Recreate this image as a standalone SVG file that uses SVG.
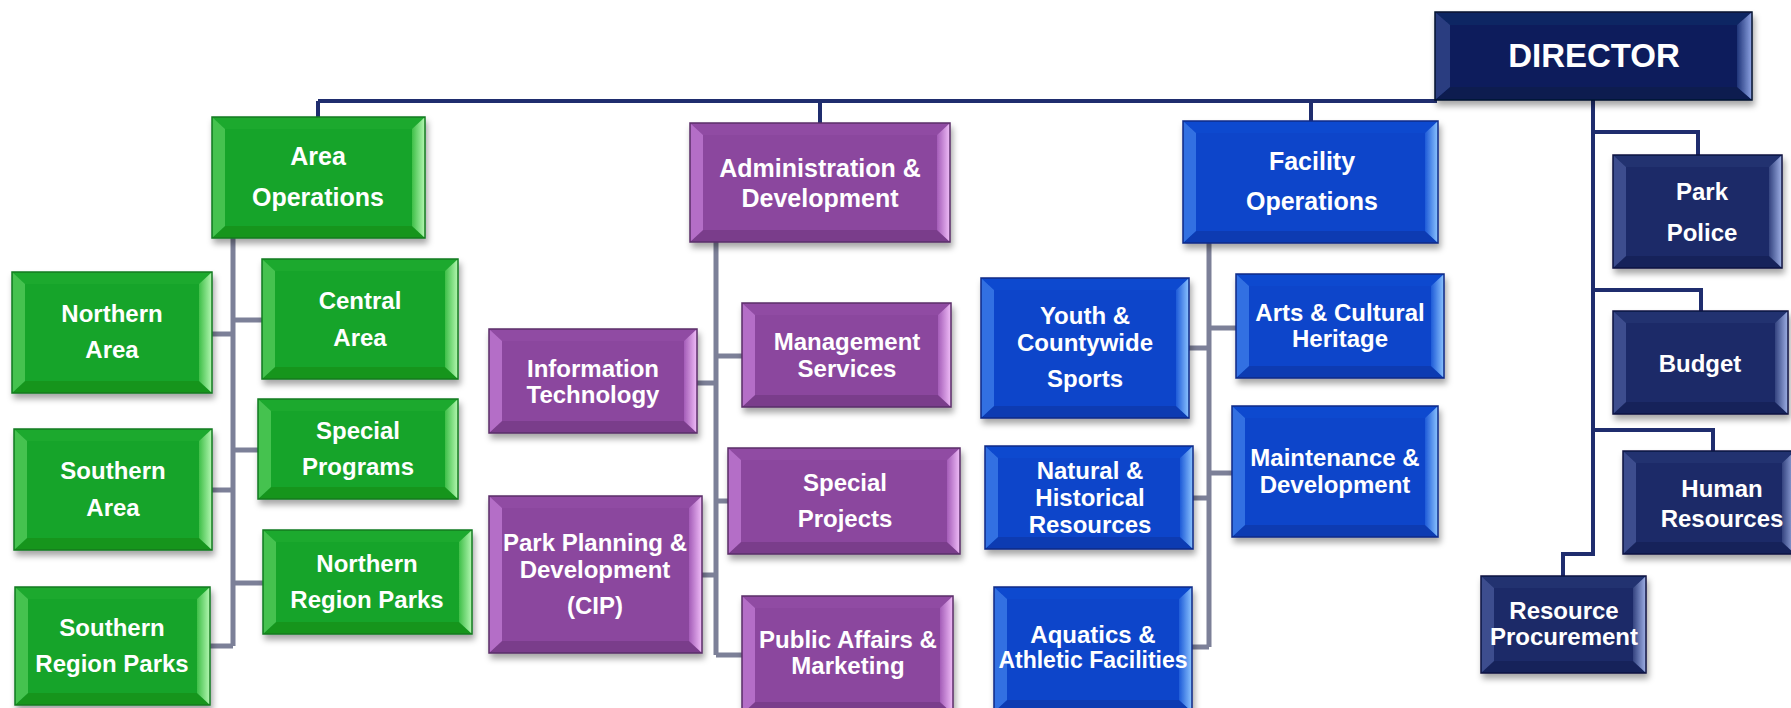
<svg xmlns="http://www.w3.org/2000/svg" width="1791" height="708" viewBox="0 0 1791 708">
<defs>
<filter id="sh" x="-10%" y="-10%" width="120%" height="130%">
<feDropShadow dx="2" dy="5" stdDeviation="3" flood-color="#000" flood-opacity="0.35"/>
</filter>
<linearGradient id="gR" x1="0" y1="0" x2="1" y2="0"><stop offset="0" stop-color="#3fbf48"/><stop offset="1" stop-color="#b4f7b2"/></linearGradient>
<linearGradient id="pR" x1="0" y1="0" x2="1" y2="0"><stop offset="0" stop-color="#a45cb8"/><stop offset="1" stop-color="#f0bdf8"/></linearGradient>
<linearGradient id="bR" x1="0" y1="0" x2="1" y2="0"><stop offset="0" stop-color="#1c5ad8"/><stop offset="1" stop-color="#8cc4ff"/></linearGradient>
<linearGradient id="nR" x1="0" y1="0" x2="1" y2="0"><stop offset="0" stop-color="#33437f"/><stop offset="1" stop-color="#9fb0e6"/></linearGradient>
<linearGradient id="dR" x1="0" y1="0" x2="1" y2="0"><stop offset="0" stop-color="#1f3478"/><stop offset="1" stop-color="#8ea4e4"/></linearGradient>
</defs>
<style>
.bx{filter:url(#sh)}
.e{fill:none;stroke-width:1.5}
.green .f{fill:#19a42b}.green .t{fill:#1fa92f}.green .l{fill:#45c250}.green .r{fill:url(#gR)}.green .b{fill:#15951f}.green .e{stroke:#137a1f}
.purple .f{fill:#8b479e}.purple .t{fill:#904ca3}.purple .l{fill:#b46ec7}.purple .r{fill:url(#pR)}.purple .b{fill:#7a3e8b}.purple .e{stroke:#5a2c68}
.blue .f{fill:#0945ca}.blue .t{fill:#0c49cf}.blue .l{fill:#3270e2}.blue .r{fill:url(#bR)}.blue .b{fill:#073bb2}.blue .e{stroke:#0a2a86}
.navy .f{fill:#1c2b68}.navy .t{fill:#213270}.navy .l{fill:#3d4d8e}.navy .r{fill:url(#nR)}.navy .b{fill:#17245a}.navy .e{stroke:#0d1640}
.dir .f{fill:#0b1f5c}.dir .t{fill:#102663}.dir .l{fill:#2a3e80}.dir .r{fill:url(#dR)}.dir .b{fill:#091a50}.dir .e{stroke:#06102f}
.lbl{font-family:"Liberation Sans",Arial,sans-serif;font-weight:bold;fill:#fff;text-anchor:middle;font-size:24px}
.hd{font-size:25px}
.bus{stroke:#1f2d6e;stroke-width:4;fill:none}
.sub{stroke:#7c8098;stroke-width:5;fill:none}
</style>

<g id="connectors">
<path class="bus" d="M318,101 H1437 M318,101 V118 M820,101 V124 M1311,101 V122"/>
<path class="bus" d="M1593,99 V554 H1563 V577 M1593,132 H1698 V156 M1593,290 H1701 V312 M1593,430 H1713 V452"/>
<path class="sub" d="M233,238 V646 M211,334 H233 M233,320 H263 M211,490 H233 M233,450 H259 M233,583 H264 M209,646 H233"/>
<path class="sub" d="M716,242 V655 M696,383 H716 M716,356 H743 M716,501 H729 M701,575 H716 M716,655 H743"/>
<path class="sub" d="M1209,243 V647 M1188,348 H1209 M1209,328 H1237 M1192,498 H1209 M1209,473 H1233 M1191,647 H1209"/>
</g>

<g id="director" class="dir">
<g class="bx" transform="translate(1435,12)"><rect class="f" width="317" height="88"/><polygon class="t" points="0,0 317,0 302,13 15,13"/><polygon class="b" points="0,88 317,88 302,75 15,75"/><polygon class="l" points="0,0 15,13 15,75 0,88"/><polygon class="r" points="317,0 302,13 302,75 317,88"/><rect class="e" width="317" height="88"/></g>
<text class="lbl" x="1594" y="67" style="font-size:33px">DIRECTOR</text>
</g>

<g id="area-operations" class="green">
<g class="bx" transform="translate(212,117)"><rect class="f" width="213" height="121"/><polygon class="t" points="0,0 213,0 200,12 13,12"/><polygon class="b" points="0,121 213,121 200,109 13,109"/><polygon class="l" points="0,0 13,12 13,109 0,121"/><polygon class="r" points="213,0 200,12 200,109 213,121"/><rect class="e" width="213" height="121"/></g>
<text class="lbl hd" x="318" y="165">Area</text><text class="lbl hd" x="318" y="206">Operations</text>
</g>

<g id="administration-development" class="purple">
<g class="bx" transform="translate(690,123)"><rect class="f" width="260" height="119"/><polygon class="t" points="0,0 260,0 247,12 13,12"/><polygon class="b" points="0,119 260,119 247,107 13,107"/><polygon class="l" points="0,0 13,12 13,107 0,119"/><polygon class="r" points="260,0 247,12 247,107 260,119"/><rect class="e" width="260" height="119"/></g>
<text class="lbl hd" x="820" y="177">Administration &amp;</text><text class="lbl hd" x="820" y="207">Development</text>
</g>

<g id="facility-operations" class="blue">
<g class="bx" transform="translate(1183,121)"><rect class="f" width="255" height="122"/><polygon class="t" points="0,0 255,0 242,12 13,12"/><polygon class="b" points="0,122 255,122 242,110 13,110"/><polygon class="l" points="0,0 13,12 13,110 0,122"/><polygon class="r" points="255,0 242,12 242,110 255,122"/><rect class="e" width="255" height="122"/></g>
<text class="lbl hd" x="1312" y="170">Facility</text><text class="lbl hd" x="1312" y="210">Operations</text>
</g>

<g id="northern-area" class="green">
<g class="bx" transform="translate(12,272)"><rect class="f" width="200" height="121"/><polygon class="t" points="0,0 200,0 187,12 13,12"/><polygon class="b" points="0,121 200,121 187,109 13,109"/><polygon class="l" points="0,0 13,12 13,109 0,121"/><polygon class="r" points="200,0 187,12 187,109 200,121"/><rect class="e" width="200" height="121"/></g>
<text class="lbl" x="112" y="322">Northern</text><text class="lbl" x="112" y="358">Area</text>
</g>

<g id="central-area" class="green">
<g class="bx" transform="translate(262,259)"><rect class="f" width="196" height="120"/><polygon class="t" points="0,0 196,0 183,12 13,12"/><polygon class="b" points="0,120 196,120 183,108 13,108"/><polygon class="l" points="0,0 13,12 13,108 0,120"/><polygon class="r" points="196,0 183,12 183,108 196,120"/><rect class="e" width="196" height="120"/></g>
<text class="lbl" x="360" y="309">Central</text><text class="lbl" x="360" y="346">Area</text>
</g>

<g id="southern-area" class="green">
<g class="bx" transform="translate(14,429)"><rect class="f" width="198" height="121"/><polygon class="t" points="0,0 198,0 185,12 13,12"/><polygon class="b" points="0,121 198,121 185,109 13,109"/><polygon class="l" points="0,0 13,12 13,109 0,121"/><polygon class="r" points="198,0 185,12 185,109 198,121"/><rect class="e" width="198" height="121"/></g>
<text class="lbl" x="113" y="479">Southern</text><text class="lbl" x="113" y="516">Area</text>
</g>

<g id="special-programs" class="green">
<g class="bx" transform="translate(258,399)"><rect class="f" width="200" height="100"/><polygon class="t" points="0,0 200,0 187,12 13,12"/><polygon class="b" points="0,100 200,100 187,88 13,88"/><polygon class="l" points="0,0 13,12 13,88 0,100"/><polygon class="r" points="200,0 187,12 187,88 200,100"/><rect class="e" width="200" height="100"/></g>
<text class="lbl" x="358" y="439">Special</text><text class="lbl" x="358" y="475">Programs</text>
</g>

<g id="southern-region-parks" class="green">
<g class="bx" transform="translate(15,587)"><rect class="f" width="195" height="118"/><polygon class="t" points="0,0 195,0 182,12 13,12"/><polygon class="b" points="0,118 195,118 182,106 13,106"/><polygon class="l" points="0,0 13,12 13,106 0,118"/><polygon class="r" points="195,0 182,12 182,106 195,118"/><rect class="e" width="195" height="118"/></g>
<text class="lbl" x="112" y="636">Southern</text><text class="lbl" x="112" y="672">Region Parks</text>
</g>

<g id="northern-region-parks" class="green">
<g class="bx" transform="translate(263,530)"><rect class="f" width="209" height="104"/><polygon class="t" points="0,0 209,0 196,12 13,12"/><polygon class="b" points="0,104 209,104 196,92 13,92"/><polygon class="l" points="0,0 13,12 13,92 0,104"/><polygon class="r" points="209,0 196,12 196,92 209,104"/><rect class="e" width="209" height="104"/></g>
<text class="lbl" x="367" y="572">Northern</text><text class="lbl" x="367" y="608">Region Parks</text>
</g>

<g id="information-technology" class="purple">
<g class="bx" transform="translate(489,329)"><rect class="f" width="208" height="104"/><polygon class="t" points="0,0 208,0 195,12 13,12"/><polygon class="b" points="0,104 208,104 195,92 13,92"/><polygon class="l" points="0,0 13,12 13,92 0,104"/><polygon class="r" points="208,0 195,12 195,92 208,104"/><rect class="e" width="208" height="104"/></g>
<text class="lbl" x="593" y="377">Information</text><text class="lbl" x="593" y="403">Technology</text>
</g>

<g id="management-services" class="purple">
<g class="bx" transform="translate(742,303)"><rect class="f" width="209" height="104"/><polygon class="t" points="0,0 209,0 196,12 13,12"/><polygon class="b" points="0,104 209,104 196,92 13,92"/><polygon class="l" points="0,0 13,12 13,92 0,104"/><polygon class="r" points="209,0 196,12 196,92 209,104"/><rect class="e" width="209" height="104"/></g>
<text class="lbl" x="847" y="350">Management</text><text class="lbl" x="847" y="377">Services</text>
</g>

<g id="special-projects" class="purple">
<g class="bx" transform="translate(728,448)"><rect class="f" width="232" height="106"/><polygon class="t" points="0,0 232,0 219,12 13,12"/><polygon class="b" points="0,106 232,106 219,94 13,94"/><polygon class="l" points="0,0 13,12 13,94 0,106"/><polygon class="r" points="232,0 219,12 219,94 232,106"/><rect class="e" width="232" height="106"/></g>
<text class="lbl" x="845" y="491">Special</text><text class="lbl" x="845" y="527">Projects</text>
</g>

<g id="park-planning" class="purple">
<g class="bx" transform="translate(489,496)"><rect class="f" width="213" height="157"/><polygon class="t" points="0,0 213,0 200,12 13,12"/><polygon class="b" points="0,157 213,157 200,145 13,145"/><polygon class="l" points="0,0 13,12 13,145 0,157"/><polygon class="r" points="213,0 200,12 200,145 213,157"/><rect class="e" width="213" height="157"/></g>
<text class="lbl" x="595" y="551">Park Planning &amp;</text><text class="lbl" x="595" y="578">Development</text><text class="lbl" x="595" y="614">(CIP)</text>
</g>

<g id="public-affairs" class="purple">
<g class="bx" transform="translate(742,596)"><rect class="f" width="211" height="118"/><polygon class="t" points="0,0 211,0 198,12 13,12"/><polygon class="b" points="0,118 211,118 198,106 13,106"/><polygon class="l" points="0,0 13,12 13,106 0,118"/><polygon class="r" points="211,0 198,12 198,106 211,118"/><rect class="e" width="211" height="118"/></g>
<text class="lbl" x="848" y="648">Public Affairs &amp;</text><text class="lbl" x="848" y="674">Marketing</text>
</g>

<g id="youth-sports" class="blue">
<g class="bx" transform="translate(981,278)"><rect class="f" width="208" height="140"/><polygon class="t" points="0,0 208,0 195,12 13,12"/><polygon class="b" points="0,140 208,140 195,128 13,128"/><polygon class="l" points="0,0 13,12 13,128 0,140"/><polygon class="r" points="208,0 195,12 195,128 208,140"/><rect class="e" width="208" height="140"/></g>
<text class="lbl" x="1085" y="324">Youth &amp;</text><text class="lbl" x="1085" y="351">Countywide</text><text class="lbl" x="1085" y="387">Sports</text>
</g>

<g id="arts-cultural" class="blue">
<g class="bx" transform="translate(1236,274)"><rect class="f" width="208" height="104"/><polygon class="t" points="0,0 208,0 195,12 13,12"/><polygon class="b" points="0,104 208,104 195,92 13,92"/><polygon class="l" points="0,0 13,12 13,92 0,104"/><polygon class="r" points="208,0 195,12 195,92 208,104"/><rect class="e" width="208" height="104"/></g>
<text class="lbl" x="1340" y="321">Arts &amp; Cultural</text><text class="lbl" x="1340" y="347">Heritage</text>
</g>

<g id="natural-historical" class="blue">
<g class="bx" transform="translate(985,446)"><rect class="f" width="208" height="103"/><polygon class="t" points="0,0 208,0 195,12 13,12"/><polygon class="b" points="0,103 208,103 195,91 13,91"/><polygon class="l" points="0,0 13,12 13,91 0,103"/><polygon class="r" points="208,0 195,12 195,91 208,103"/><rect class="e" width="208" height="103"/></g>
<text class="lbl" x="1090" y="479">Natural &amp;</text><text class="lbl" x="1090" y="506">Historical</text><text class="lbl" x="1090" y="533">Resources</text>
</g>

<g id="maintenance-development" class="blue">
<g class="bx" transform="translate(1232,406)"><rect class="f" width="206" height="131"/><polygon class="t" points="0,0 206,0 193,12 13,12"/><polygon class="b" points="0,131 206,131 193,119 13,119"/><polygon class="l" points="0,0 13,12 13,119 0,131"/><polygon class="r" points="206,0 193,12 193,119 206,131"/><rect class="e" width="206" height="131"/></g>
<text class="lbl" x="1335" y="466">Maintenance &amp;</text><text class="lbl" x="1335" y="493">Development</text>
</g>

<g id="aquatics-athletic" class="blue">
<g class="bx" transform="translate(994,587)"><rect class="f" width="198" height="125"/><polygon class="t" points="0,0 198,0 185,12 13,12"/><polygon class="b" points="0,125 198,125 185,113 13,113"/><polygon class="l" points="0,0 13,12 13,113 0,125"/><polygon class="r" points="198,0 185,12 185,113 198,125"/><rect class="e" width="198" height="125"/></g>
<text class="lbl" x="1093" y="643">Aquatics &amp;</text><text class="lbl" x="1093" y="668" style="font-size:23px">Athletic Facilities</text>
</g>

<g id="park-police" class="navy">
<g class="bx" transform="translate(1613,155)"><rect class="f" width="169" height="113"/><polygon class="t" points="0,0 169,0 156,12 13,12"/><polygon class="b" points="0,113 169,113 156,101 13,101"/><polygon class="l" points="0,0 13,12 13,101 0,113"/><polygon class="r" points="169,0 156,12 156,101 169,113"/><rect class="e" width="169" height="113"/></g>
<text class="lbl" x="1702" y="200">Park</text><text class="lbl" x="1702" y="241">Police</text>
</g>

<g id="budget" class="navy">
<g class="bx" transform="translate(1613,311)"><rect class="f" width="175" height="103"/><polygon class="t" points="0,0 175,0 162,12 13,12"/><polygon class="b" points="0,103 175,103 162,91 13,91"/><polygon class="l" points="0,0 13,12 13,91 0,103"/><polygon class="r" points="175,0 162,12 162,91 175,103"/><rect class="e" width="175" height="103"/></g>
<text class="lbl" x="1700" y="372">Budget</text>
</g>

<g id="human-resources" class="navy">
<g class="bx" transform="translate(1623,451)"><rect class="f" width="172" height="103"/><polygon class="t" points="0,0 172,0 159,12 13,12"/><polygon class="b" points="0,103 172,103 159,91 13,91"/><polygon class="l" points="0,0 13,12 13,91 0,103"/><polygon class="r" points="172,0 159,12 159,91 172,103"/><rect class="e" width="172" height="103"/></g>
<text class="lbl" x="1722" y="497">Human</text><text class="lbl" x="1722" y="527">Resources</text>
</g>

<g id="resource-procurement" class="navy">
<g class="bx" transform="translate(1481,576)"><rect class="f" width="165" height="97"/><polygon class="t" points="0,0 165,0 152,12 13,12"/><polygon class="b" points="0,97 165,97 152,85 13,85"/><polygon class="l" points="0,0 13,12 13,85 0,97"/><polygon class="r" points="165,0 152,12 152,85 165,97"/><rect class="e" width="165" height="97"/></g>
<text class="lbl" x="1564" y="619">Resource</text><text class="lbl" x="1564" y="645">Procurement</text>
</g>
</svg>
